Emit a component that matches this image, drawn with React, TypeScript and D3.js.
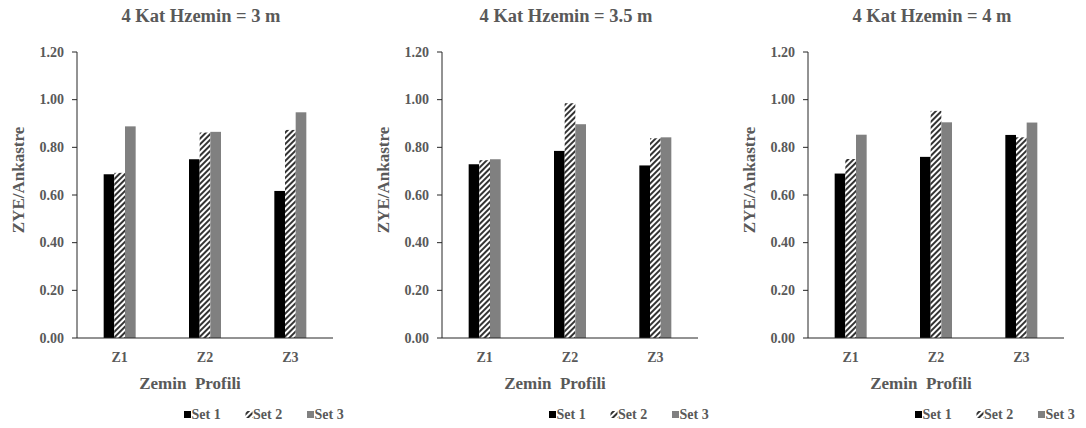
import React from 'react';
import * as d3 from 'd3';

const categories = ['Z1', 'Z2', 'Z3'];
const seriesNames = ['Set 1', 'Set 2', 'Set 3'];
const yTicks = [0, 0.2, 0.4, 0.6, 0.8, 1.0, 1.2];
const chartTitles = ['4 Kat Hzemin = 3 m', '4 Kat Hzemin = 3.5 m', '4 Kat Hzemin = 4 m'];

// values per chart: [Set1, Set2, Set3] per category
const chart1Set1 = [0.687, 0.75, 0.617];
const chart1Set2 = [0.693, 0.862, 0.873];
const chart1Set3 = [0.888, 0.865, 0.947];
const chart2Set1 = [0.729, 0.785, 0.724];
const chart2Set2 = [0.746, 0.985, 0.838];
const chart2Set3 = [0.75, 0.897, 0.842];
const chart3Set1 = [0.69, 0.76, 0.852];
const chart3Set2 = [0.751, 0.953, 0.842];
const chart3Set3 = [0.853, 0.905, 0.904];

const charts = [
  { title: chartTitles[0], data: [chart1Set1, chart1Set2, chart1Set3] },
  { title: chartTitles[1], data: [chart2Set1, chart2Set2, chart2Set3] },
  { title: chartTitles[2], data: [chart3Set1, chart3Set2, chart3Set3] },
];

const W = 1086;
const H = 428;
const plotLefts = [77, 442, 808];
const plotW = 256;
const plotTop = 52;
const plotBottom = 338;
const textColor = '#595959';
const font = '"Liberation Serif", "Times New Roman", serif';

function fillFor(i: number) {
  if (i === 0) return '#000000';
  if (i === 1) return 'url(#hatch)';
  return '#808080';
}

function Panel({ left, title, data }: { left: number; title: string; data: number[][] }) {
  const x = d3.scaleBand<string>().domain(categories).range([0, plotW]).paddingInner(0.625).paddingOuter(0.3125);
  const xs = d3.scaleBand<string>().domain(seriesNames).range([0, x.bandwidth()]);
  const y = d3.scaleLinear().domain([0, 1.2]).range([plotBottom, plotTop]);
  return (
    <g transform={`translate(${left},0)`}>
      <text x={124} y={22} textAnchor="middle" fontFamily={font} fontWeight="bold" fontSize={18.5} fill={textColor}>
        {title}
      </text>
      <text
        transform={`translate(${-59},${180}) rotate(-90)`}
        textAnchor="middle"
        dominantBaseline="central"
        fontFamily={font}
        fontWeight="bold"
        fontSize={17}
        fill={textColor}
      >
        ZYE/Ankastre
      </text>
      {categories.map((c, ci) =>
        seriesNames.map((s, si) => (
          <rect
            key={c + s}
            x={(x(c) as number) + (xs(s) as number)}
            y={y(data[si][ci])}
            width={xs.bandwidth()}
            height={plotBottom - y(data[si][ci])}
            fill={fillFor(si)}
          />
        ))
      )}
      <line x1={0} x2={0} y1={plotTop} y2={plotBottom} stroke="#262626" strokeWidth={1} />
      {yTicks.map((t) => (
        <g key={t}>
          <line x1={-5} x2={0} y1={y(t)} y2={y(t)} stroke="#262626" strokeWidth={1} />
          <text
            x={-13}
            y={y(t)}
            textAnchor="end"
            dominantBaseline="central"
            fontFamily={font}
            fontWeight="bold"
            fontSize={14}
            fill={textColor}
          >
            {d3.format('.2f')(t)}
          </text>
        </g>
      ))}
      <line x1={0} x2={plotW} y1={plotBottom} y2={plotBottom} stroke="#262626" strokeWidth={1} />
      {categories.map((c) => (
        <text
          key={c}
          x={(x(c) as number) + x.bandwidth() / 2}
          y={362}
          textAnchor="middle"
          fontFamily={font}
          fontWeight="bold"
          fontSize={14}
          fill={textColor}
        >
          {c}
        </text>
      ))}
      <text
        x={113}
        y={389}
        textAnchor="middle"
        fontFamily={font}
        fontWeight="bold"
        fontSize={17}
        fill={textColor}
        style={{ whiteSpace: 'pre' }}
      >
        {'Zemin  Profili'}
      </text>
      {seriesNames.map((s, si) => (
        <g key={s} transform={`translate(${107 + si * 61.5},0)`}>
          <rect x={0} y={411} width={7} height={7} fill={fillFor(si)} />
          <text x={7.5} y={419} fontFamily={font} fontWeight="bold" fontSize={14} fill={textColor}>
            {s}
          </text>
        </g>
      ))}
    </g>
  );
}

export default function App() {
  return (
    <svg
      width={W}
      height={H}
      viewBox={`0 0 ${W} ${H}`}
      style={{ position: 'absolute', left: 0, top: 0, background: '#fff' }}
    >
      <defs>
        <pattern id="hatch" patternUnits="userSpaceOnUse" width={4} height={4} patternTransform="rotate(45)">
          <rect x={0} y={0} width={4} height={4} fill="#ffffff" />
          <line x1={1} y1={0} x2={1} y2={4} stroke="#000000" strokeWidth={1.6} />
        </pattern>
      </defs>
      <rect x={0} y={0} width={W} height={H} fill="#ffffff" />
      {charts.map((c, i) => (
        <Panel key={i} left={plotLefts[i]} title={c.title} data={c.data} />
      ))}
    </svg>
  );
}
